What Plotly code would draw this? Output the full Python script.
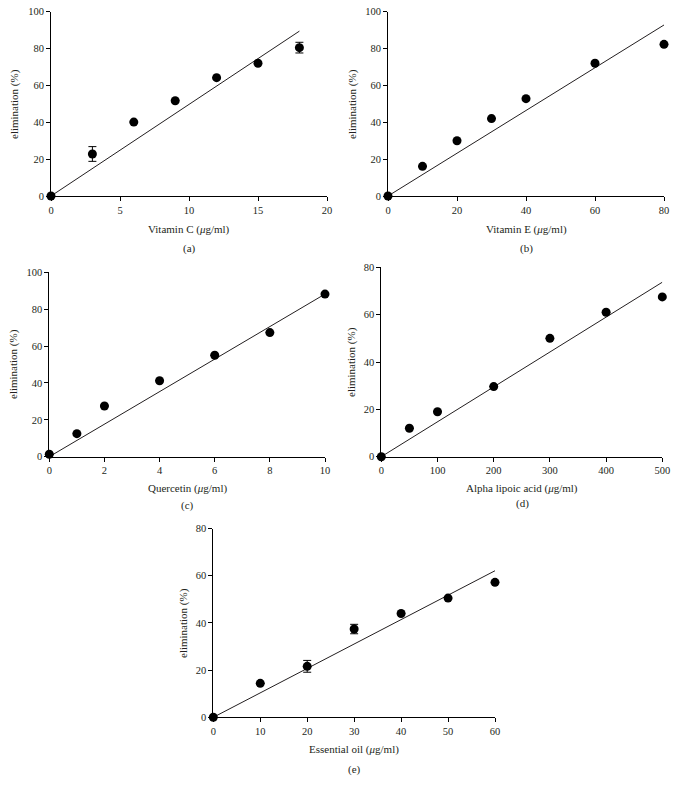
import plotly.graph_objects as go

W, H = 677, 791

# ---------------- data ----------------
vitc_x = [0, 3, 6, 9, 12, 15, 18]
vitc_y = [0, 22.8, 40.1, 51.7, 64.2, 72.0, 80.5]
vitc_err = [0, 4.0, 0, 0, 0, 0, 2.9]
vitc_slope = 4.97

vite_x = [0, 10, 20, 30, 40, 60, 80]
vite_y = [0, 16.1, 30.0, 42.0, 52.8, 72.0, 82.3]
vite_err = [0, 0, 0, 0, 0, 0, 0]
vite_slope = 1.16

quer_x = [0, 1, 2, 4, 6, 8, 10]
quer_y = [1.3, 12.5, 27.5, 41.2, 55.0, 67.3, 88.2]
quer_err = [0, 0, 0, 0, 0, 0, 0]
quer_slope = 8.82

ala_x = [0, 50, 100, 200, 300, 400, 500]
ala_y = [0, 12.0, 19.0, 29.6, 50.0, 61.0, 67.5]
ala_err = [0, 0, 0, 0, 0, 0, 0]
ala_slope = 0.1474

oil_x = [0, 10, 20, 30, 40, 50, 60]
oil_y = [0, 14.4, 21.6, 37.4, 44.0, 50.5, 57.2]
oil_err = [0, 0, 2.5, 2.0, 0, 0, 0]
oil_slope = 1.035

x_titles = ["Vitamin C (<i>μ</i>g/ml)", "Vitamin E (<i>μ</i>g/ml)",
            "Quercetin (<i>μ</i>g/ml)", "Alpha lipoic acid (<i>μ</i>g/ml)",
            "Essential oil (<i>μ</i>g/ml)"]
panel_labels = ["(a)", "(b)", "(c)", "(d)", "(e)"]
y_title = "elimination (%)"

x_ranges = [[0, 20], [0, 80], [0, 10], [0, 500], [0, 60]]
x_dticks = [5, 20, 2, 100, 10]
y_ranges = [[0, 100], [0, 100], [0, 100], [0, 80], [0, 80]]
y_dticks = [20, 20, 20, 20, 20]

# ---------------- layout (pixel boxes) ----------------
boxes = [  # x0, x1, ytop, ybottom
    (51, 327, 11.7, 196),
    (388, 664, 11.7, 196),
    (49.3, 325, 272.3, 456.7),
    (381.3, 662.3, 267.3, 456.7),
    (213.3, 495, 528.5, 717.3),
]
xtitle_pos = [(189, 229), (526, 229), (187, 488), (522, 488), (354, 749)]
label_pos = [(189, 248), (526, 248), (187, 505), (522, 503), (354, 769)]
ytitle_pos = [(14, 104), (352, 104), (13, 364), (352, 362), (183, 623)]

FONT = "Liberation Serif"
TXT = "#231f20"

datasets = [
    (vitc_x, vitc_y, vitc_err, vitc_slope),
    (vite_x, vite_y, vite_err, vite_slope),
    (quer_x, quer_y, quer_err, quer_slope),
    (ala_x, ala_y, ala_err, ala_slope),
    (oil_x, oil_y, oil_err, oil_slope),
]

fig = go.Figure()
layout = dict(
    template="none",
    width=W, height=H, margin=dict(l=0, r=0, t=0, b=0, pad=0, autoexpand=False),
    paper_bgcolor="white", plot_bgcolor="white", showlegend=False,
    font=dict(family=FONT, color=TXT, size=11),
)
annotations = []

for i, (xs, ys, errs, slope) in enumerate(datasets):
    n = "" if i == 0 else str(i + 1)
    xa, ya = "x" + n, "y" + n
    x0, x1, yt, yb = boxes[i]
    layout["xaxis" + n] = dict(
        domain=[x0 / W, x1 / W], anchor=ya, range=x_ranges[i],
        tickmode="linear", tick0=0, dtick=x_dticks[i], automargin=False,
        showline=True, linecolor="black", linewidth=1,
        ticks="outside", ticklen=4, tickcolor="black", tickwidth=1,
        showgrid=False, zeroline=False,
        tickfont=dict(family=FONT, size=10.5, color=TXT),
    )
    layout["yaxis" + n] = dict(
        domain=[1 - yb / H, 1 - yt / H], anchor=xa, range=y_ranges[i],
        tickmode="linear", tick0=0, dtick=y_dticks[i], automargin=False,
        showline=True, linecolor="black", linewidth=1,
        ticks="outside", ticklen=4, tickcolor="black", tickwidth=1,
        showgrid=False, zeroline=False,
        tickfont=dict(family=FONT, size=10.5, color=TXT),
    )
    # fitted line
    fx = [0, xs[-1]]
    fy = [0, slope * xs[-1]]
    fig.add_trace(go.Scatter(x=fx, y=fy, mode="lines", xaxis=xa, yaxis=ya,
                             line=dict(color="#231f20", width=1),
                             cliponaxis=False, hoverinfo="skip"))
    fig.add_trace(go.Scatter(
        x=xs, y=ys, mode="markers", xaxis=xa, yaxis=ya, cliponaxis=False,
        marker=dict(color="black", size=9, line=dict(width=0)),
        error_y=dict(type="data", array=errs, visible=True, color="black",
                     thickness=1, width=4),
    ))
    # titles
    px, py = xtitle_pos[i]
    annotations.append(dict(x=px / W, y=1 - py / H, xref="paper", yref="paper",
                            text=x_titles[i], showarrow=False,
                            font=dict(family=FONT, size=11, color=TXT),
                            xanchor="center", yanchor="middle"))
    px, py = label_pos[i]
    annotations.append(dict(x=px / W, y=1 - py / H, xref="paper", yref="paper",
                            text=panel_labels[i], showarrow=False,
                            font=dict(family=FONT, size=11, color=TXT),
                            xanchor="center", yanchor="middle"))
    px, py = ytitle_pos[i]
    annotations.append(dict(x=px / W, y=1 - py / H, xref="paper", yref="paper",
                            text=y_title, showarrow=False, textangle=-90,
                            font=dict(family=FONT, size=11, color=TXT),
                            xanchor="center", yanchor="middle"))

layout["annotations"] = annotations
fig.update_layout(**layout)
fig.write_html(
    "out.html",
    config={"displayModeBar": False},
    post_script="document.body.style.margin='0';document.body.style.padding='0';"
                "document.documentElement.style.overflow='hidden';",
)
